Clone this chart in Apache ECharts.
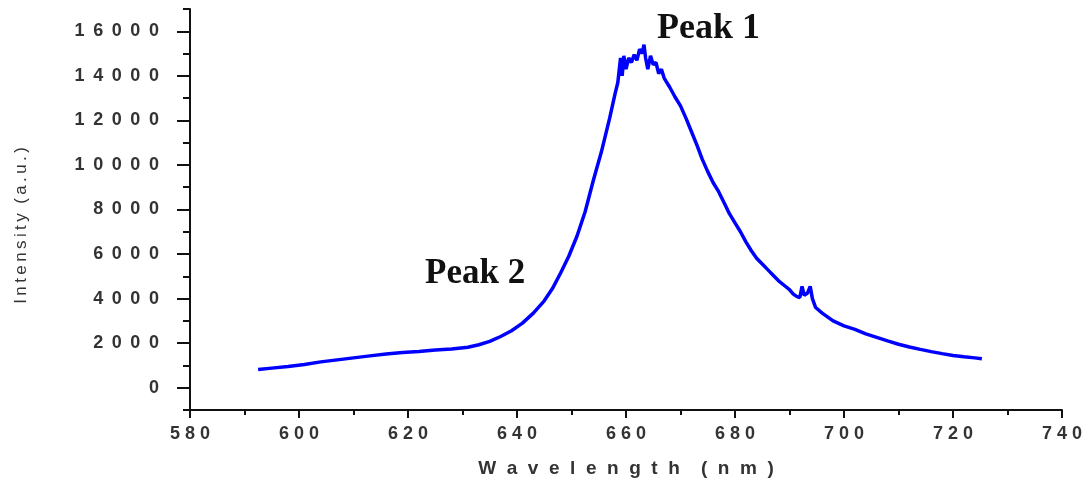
<!DOCTYPE html>
<html>
<head>
<meta charset="utf-8">
<script src="https://cdn.jsdelivr.net/npm/echarts@6/dist/echarts.min.js"></script>
<style>
  html, body { margin: 0; padding: 0; background: #fff; }
  #chart { width: 1088px; height: 488px; }
</style>
</head>
<body>
<div id="chart"></div>
<script>
// wavelength (nm) and intensity (a.u.)
const wavelengths = [
  592.5, 595, 598, 601, 604, 607, 610, 613, 616, 619, 622, 625, 628, 631, 633, 635, 637, 639,
  641, 643, 645, 646.5, 648, 649.5, 651, 652.5, 654, 655.5, 657, 658, 658.5, 659, 659.3, 659.6,
  660, 660.5, 661, 661.5, 662, 662.5, 663, 663.3, 663.6, 664, 664.5, 665, 665.5, 666, 666.5,
  667, 668, 669, 670, 671, 672, 673, 674, 675, 676, 677, 678, 679, 680, 681, 682, 683, 684,
  685, 686, 687, 688, 689, 690, 690.7, 691.3, 691.9, 692.3, 692.7, 693.3, 693.8, 694.2, 694.8,
  696, 698, 700, 702, 704, 706, 708, 710, 712, 714, 716, 718, 720, 722, 724, 725.3
]
const intensities = [
  820, 880, 950, 1040, 1160, 1250, 1340, 1430, 1510, 1580, 1630, 1690, 1740, 1820, 1930, 2080, 2300, 2560,
  2900, 3350, 3900, 4450, 5150, 5900, 6800, 7900, 9300, 10600, 12100, 13200, 13700, 14800, 14000, 14900,
  14300, 14800, 14600, 14950, 14700, 15200, 15000, 15400, 14800, 14300, 14900, 14500, 14600, 14100, 14300,
  13900, 13500, 13050, 12650, 12100, 11500, 10900, 10250, 9700, 9200, 8800, 8300, 7800, 7400, 7000, 6550, 6150, 5800,
  5550, 5300, 5050, 4800, 4600, 4400, 4200, 4100, 4050, 4550, 4150, 4250, 4550, 4000, 3600,
  3350, 3000, 2780, 2620, 2420, 2260, 2100, 1950, 1830, 1720, 1620, 1530, 1450, 1390, 1340, 1300
]
const yMajorTicks = [0, 2000, 4000, 6000, 8000, 10000, 12000, 14000, 16000]
const peakLabels = ['Peak 1', 'Peak 2']

// the original plot uses wide letter spacing on its axis text
const spaced = (v, sep) => String(v).split('').join(sep)

const chart = echarts.init(document.getElementById('chart'))
chart.setOption({
  backgroundColor: '#fff',
  animation: false,
  grid: { left: 190, right: 26, top: 9, bottom: 78 },
  xAxis: {
    type: 'value',
    min: 580,
    max: 740,
    interval: 20,
    name: spaced('Wavelength', '  ') + '    ' + spaced('(nm)', '  '),
    nameLocation: 'middle',
    nameGap: 49,
    nameTextStyle: { fontFamily: 'Liberation Sans', fontSize: 19, fontWeight: 'bold', color: '#333', verticalAlign: 'top' },
    axisLine: { onZero: false, lineStyle: { color: '#111', width: 2 } },
    axisTick: { length: 8, lineStyle: { color: '#111', width: 2 } },
    minorTick: { show: true, splitNumber: 2, length: 5, lineStyle: { color: '#111', width: 2 } },
    axisLabel: {
      margin: 15,
      fontFamily: 'Liberation Sans',
      fontSize: 18,
      fontWeight: 'bold',
      color: '#333',
      formatter: v => spaced(v, ' ')
    },
    splitLine: { show: false }
  },
  yAxis: [
    {
      type: 'value',
      min: -1000,
      max: 17000,
      interval: 1000,
      axisLine: { show: true, onZero: false, lineStyle: { color: '#111', width: 2 } },
      axisTick: { length: 7, lineStyle: { color: '#111', width: 2 } },
      axisLabel: { show: false },
      splitLine: { show: false }
    },
    {
      type: 'value',
      position: 'left',
      min: -1000,
      max: 17000,
      name: spaced('Intensity', '\u2009') + '  ' + spaced('(a.u.)', '\u2009'),
      nameLocation: 'middle',
      nameGap: 160,
      nameTextStyle: { fontFamily: 'Liberation Sans', fontSize: 17, color: '#333', padding: [0, 32, 0, 0] },
      axisLine: { show: false },
      axisTick: { show: true, length: 13, customValues: yMajorTicks, lineStyle: { color: '#111', width: 2 } },
      axisLabel: {
        customValues: yMajorTicks,
        margin: 31,
        fontFamily: 'Liberation Sans',
        fontSize: 18,
        fontWeight: 'bold',
        color: '#333',
        formatter: v => spaced(v, ' \u2009')
      },
      splitLine: { show: false }
    }
  ],
  graphic: [
    { type: 'text', left: 657, top: 11, style: { text: peakLabels[0], font: 'bold 36px "Liberation Serif"', fill: '#111' } },
    { type: 'text', left: 425, top: 256, style: { text: peakLabels[1], font: 'bold 35px "Liberation Serif"', fill: '#111' } }
  ],
  series: [{
    type: 'line',
    yAxisIndex: 0,
    showSymbol: false,
    data: wavelengths.map((w, i) => [w, intensities[i]]),
    lineStyle: { color: '#0000ff', width: 3.5 }
  }]
})
</script>
</body>
</html>
